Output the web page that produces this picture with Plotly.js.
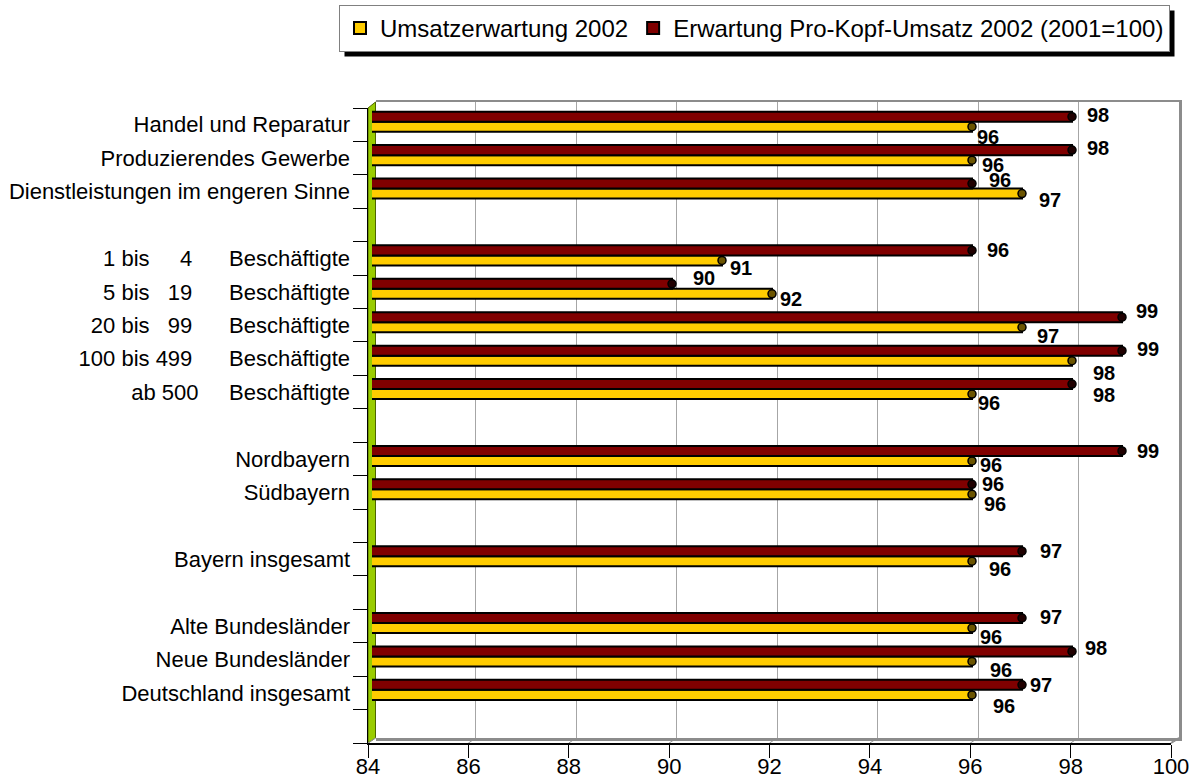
<!DOCTYPE html>
<html>
<head>
<meta charset="utf-8">
<script src="https://cdn.plot.ly/plotly-3.0.1.min.js"></script>
<style>html,body{margin:0;padding:0;background:#fff;}#chart{width:1193px;height:781px;}</style>
</head>
<body>
<div id="chart"></div>
<script>
// ---- data ----
const sectorLabels = ["Handel und Reparatur", "Produzierendes Gewerbe", "Dienstleistungen im engeren Sinne"];
const sizeLabels = ["1 bis     4      Beschäftigte", "5 bis   19      Beschäftigte", "20 bis   99      Beschäftigte", "100 bis 499      Beschäftigte", "ab 500     Beschäftigte"];
const regionLabels = ["Nordbayern", "Südbayern"];
const bayernLabels = ["Bayern insgesamt"];
const germanyLabels = ["Alte Bundesländer", "Neue Bundesländer", "Deutschland insgesamt"];

const seriesNames = ["Umsatzerwartung 2002", "Erwartung Pro-Kopf-Umsatz 2002 (2001=100)"];
const umsatz  = [96, 96, 97, 91, 92, 97, 98, 96, 96, 96, 96, 96, 96, 96];
const proKopf = [98, 98, 96, 96, 90, 99, 99, 98, 99, 96, 97, 97, 98, 97];
const xTicks = [84, 86, 88, 90, 92, 94, 96, 98, 100];

// value-label nudges in pixels (right, down) as placed in the original
const redDx = [15, 15, 17, 15, 21, 14, 15, 21, 15, 10, 18, 18, 13, 8];
const redDy = [-2, -2, -4, 0, -6, -6, -2, 11, 0, 0, 0, -1, -3, 0];
const yelDx = [5, 10, 17, 8, 8, 15, 21, 6, 8, 12, 17, 8, 18, 21];
const yelDy = [10, 5, 6, 8, 5, 9, 12, 9, 4, 10, 8, 9, 9, 11];

// ---- build rows (one empty slot after each group) ----
const groups = [sectorLabels, sizeLabels, regionLabels, bayernLabels, germanyLabels];
const labels = [], rows = [], boundaries = [];
let pos = 0;
groups.forEach(g => { g.forEach(l => { labels.push(l.replace(/ /g, "\u00a0")); rows.push(pos++); }); pos++; });
for (let i = 0; i <= pos; i++) boundaries.push(i - 0.5);
const yRange = [pos - 0.5, -0.5];
const xMin = xTicks[0], xMax = xTicks[xTicks.length - 1];

// ---- geometry helpers (pixels -> paper) ----
const W = 1193, H = 781;
const px = v => v / W, py = v => 1 - v / H;
const FRONT = {x0: 368, x1: 1171, y0: 108, y1: 743};
const BARS  = {x0: 372, x1: 1172, y0: 105, y1: 740};
const BACK  = {x0: 375.5, x1: 1179, y0: 102, y1: 738};
const dom = b => ({x: [px(b.x0), px(b.x1)], y: [py(b.y1), py(b.y0)]});
const xOn = (b, v) => b.x0 + (v - xMin) / (xMax - xMin) * (b.x1 - b.x0);

const FONT = "Liberation Sans, Arial, sans-serif";
const RED = "#800000", YEL = "#FFCC00";

const hidden = (xa, ya) => ({type: "scatter", mode: "markers", x: [xMin], y: [0], xaxis: xa, yaxis: ya,
  marker: {opacity: 0}, showlegend: false, hoverinfo: "skip"});

const barH = 0.3;
const traces = [
  hidden("x", "y"),
  {type: "bar", orientation: "h", name: seriesNames[0], x: umsatz, y: rows, xaxis: "x2", yaxis: "y2",
   width: barH, offset: 0, marker: {color: YEL, line: {color: "#000", width: 2}}, hoverinfo: "x"},
  {type: "bar", orientation: "h", name: seriesNames[1], x: proKopf, y: rows, xaxis: "x2", yaxis: "y2",
   width: barH, offset: -barH, marker: {color: RED, line: {color: "#000", width: 2}}, hoverinfo: "x"},
  // rounded bar ends
  {type: "scatter", mode: "markers", x: umsatz, y: rows.map(r => r + barH / 2), xaxis: "x2", yaxis: "y2",
   marker: {symbol: "circle", size: 8, color: "#6b5400", line: {color: "#000", width: 1.5}}, showlegend: false, hoverinfo: "skip", cliponaxis: false},
  {type: "scatter", mode: "markers", x: proKopf, y: rows.map(r => r - barH / 2), xaxis: "x2", yaxis: "y2",
   marker: {symbol: "circle", size: 8, color: "#200000", line: {color: "#000", width: 1.5}}, showlegend: false, hoverinfo: "skip", cliponaxis: false},
  hidden("x3", "y3"),
  hidden("x3", "y4"),
  hidden("x4", "y3")
];

// ---- value labels ----
const labFont = {family: FONT, size: 20, color: "#000", weight: "bold"};
const annotations = [];
rows.forEach((r, i) => {
  annotations.push({xref: "x2", yref: "y2", x: proKopf[i], y: r - barH / 2, text: String(proKopf[i]),
    xanchor: "left", yanchor: "middle", xshift: redDx[i] - 2, yshift: -redDy[i], showarrow: false, font: labFont});
  annotations.push({xref: "x2", yref: "y2", x: umsatz[i], y: r + barH / 2, text: String(umsatz[i]),
    xanchor: "left", yanchor: "middle", xshift: yelDx[i] - 2, yshift: -yelDy[i], showarrow: false, font: labFont});
});

// ---- decorative 3D shapes ----
const shapes = [
  {type: "path", xref: "paper", yref: "paper", layer: "below",
   path: `M${px(FRONT.x0)},${py(FRONT.y0)} L${px(BACK.x0)},${py(BACK.y0)} L${px(BACK.x0)},${py(BACK.y1)} L${px(FRONT.x0)},${py(FRONT.y1)} Z`,
   fillcolor: "#99CC00", line: {color: "#4d6600", width: 1}},
  {type: "line", xref: "paper", yref: "paper", layer: "below",
   x0: px(FRONT.x1), y0: py(FRONT.y1), x1: px(BACK.x1), y1: py(BACK.y1), line: {color: "#808080", width: 2}}
];
xTicks.forEach(v => shapes.push({type: "line", xref: "paper", yref: "paper", layer: "below",
  x0: px(xOn(FRONT, v)), y0: py(FRONT.y1), x1: px(xOn(BACK, v)), y1: py(BACK.y1),
  line: {color: "#9a9a9a", width: 1}}));

const d0 = dom(BACK), d2 = dom(BARS), d3 = dom(FRONT);
const hiddenAxis = {showgrid: false, zeroline: false, showticklabels: false, ticks: ""};

const layout = {
  width: W, height: H,
  margin: {l: 0, r: 0, t: 0, b: 0},
  paper_bgcolor: "#fff", plot_bgcolor: "rgba(0,0,0,0)",
  font: {family: FONT, size: 22, color: "#000"},
  showlegend: true,
  barmode: "overlay",
  xaxis: {domain: d0.x, anchor: "y", range: [xMin, xMax], tickvals: xTicks.slice(1, -1),
    showgrid: true, gridcolor: "#a6a6a6", gridwidth: 1, zeroline: false, showticklabels: false, ticks: "",
    showline: true, linecolor: "#8c8c8c", linewidth: 2.5, mirror: true},
  yaxis: {domain: d0.y, anchor: "x", range: yRange, side: "right",
    showline: true, linecolor: "#8c8c8c", linewidth: 2.5, ...hiddenAxis},
  xaxis2: {domain: d2.x, anchor: "y2", range: [xMin, xMax], ...hiddenAxis},
  yaxis2: {domain: d2.y, anchor: "x2", range: yRange, ...hiddenAxis},
  // front axis: line + tick marks
  xaxis3: {domain: d3.x, anchor: "y3", range: [xMin, xMax], tickvals: xTicks,
    showgrid: false, zeroline: false, showline: true, linecolor: "#000", linewidth: 1.5,
    ticks: "outside", ticklen: 13, tickcolor: "#000", tickwidth: 1, showticklabels: false},
  // front axis: tick labels
  xaxis4: {overlaying: "x3", anchor: "y3", side: "bottom", range: [xMin, xMax], tickvals: xTicks, ticktext: xTicks.map(String),
    showgrid: false, zeroline: false, showline: false, ticks: "", ticklabelstandoff: 8, tickfont: {size: 22}},
  yaxis3: {domain: d3.y, anchor: "x3", range: yRange, tickvals: rows, ticktext: labels,
    showgrid: false, zeroline: false, showline: true, linecolor: "#000", linewidth: 1.5,
    ticks: "", ticklabelstandoff: 12, tickfont: {size: 22}},
  yaxis4: {overlaying: "y3", anchor: "x3", range: yRange, tickvals: boundaries, side: "left",
    showgrid: false, zeroline: false, showticklabels: false, showline: false,
    ticks: "outside", ticklen: 14, tickcolor: "#000", tickwidth: 1},
  legend: {orientation: "h", x: px(1170), xanchor: "right", y: py(5), yanchor: "top",
    bgcolor: "#fff", bordercolor: "#808080", borderwidth: 1, font: {size: 24}, traceorder: "normal"},
  annotations: annotations,
  shapes: shapes
};

Plotly.newPlot("chart", traces, layout, {displayModeBar: false, staticPlot: true}).then(gd => {
  // drop shadow behind the legend box, sized from the drawn legend
  const bg = gd.querySelector(".legend .bg");
  const box = gd.getBoundingClientRect();
  if (!bg) return;
  const r = bg.getBoundingClientRect();
  const off = 5;
  const shadow = {type: "rect", xref: "paper", yref: "paper", layer: "below",
    x0: px(r.left - box.left + off), x1: px(r.right - box.left + off),
    y0: py(r.bottom - box.top + off), y1: py(r.top - box.top + off),
    fillcolor: "#000", line: {width: 0}};
  return Plotly.relayout(gd, {shapes: shapes.concat([shadow])});
});
</script>
</body>
</html>
